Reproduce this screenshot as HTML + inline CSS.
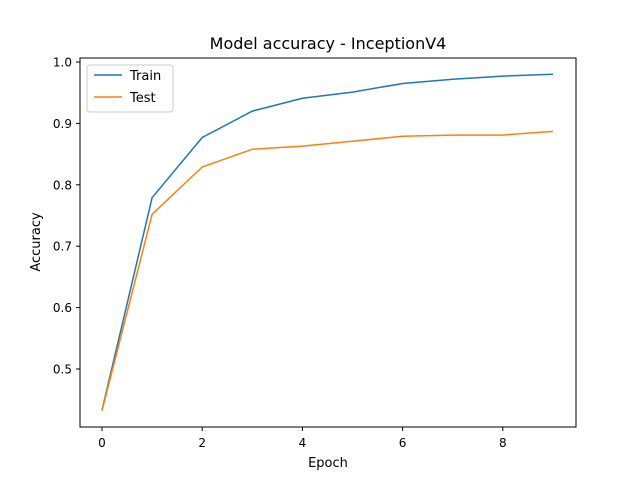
<!DOCTYPE html>
<html><head><meta charset="utf-8"><style>
body{margin:0;background:#fff;font-family:"DejaVu Sans","Liberation Sans",sans-serif;}
</style></head><body>
<svg id="chart" width="640" height="480" xmlns="http://www.w3.org/2000/svg" font-family="DejaVu Sans, Liberation Sans, sans-serif">
<rect width="640" height="480" fill="#fff"/>
<text x="328" y="49" font-size="16" text-anchor="middle">Model accuracy - InceptionV4</text>
<g id="plot"></g>
<rect x="80" y="58" width="496" height="369" fill="none" stroke="#000" stroke-width="1"/>
<text x="328" y="467" font-size="13" text-anchor="middle">Epoch</text>
<text transform="translate(40,242) rotate(-90)" font-size="13" text-anchor="middle">Accuracy</text>
<g>
<rect x="87" y="65" width="86" height="47" rx="3" fill="#fff" fill-opacity="0.8" stroke="#ccc"/>
<line x1="94" y1="75" x2="122" y2="75" stroke="#1f77b4" stroke-width="1.5"/>
<text x="130" y="80" font-size="13">Train</text>
<line x1="94" y1="97" x2="122" y2="97" stroke="#ff7f0e" stroke-width="1.5"/>
<text x="130" y="102" font-size="13">Test</text>
</g>
</svg>
<script>
const epochs=[0,1,2,3,4,5,6,7,8,9];
const trainAcc=[0.433,0.779,0.877,0.920,0.941,0.951,0.965,0.972,0.977,0.980];
const testAcc=[0.432,0.752,0.829,0.858,0.863,0.871,0.879,0.881,0.881,0.887];
const xTicks=[0,2,4,6,8];
const yTicks=[0.5,0.6,0.7,0.8,0.9,1.0];
const NS='http://www.w3.org/2000/svg';
const X=v=>102+v*50.1;
const Y=v=>62+(1-v)*614;
const g=document.getElementById('plot');
function el(t,a){const e=document.createElementNS(NS,t);for(const k in a)e.setAttribute(k,a[k]);g.appendChild(e);return e;}
xTicks.forEach(t=>{
 const l=el('line',{x1:X(t),x2:X(t),y1:427,y2:431,stroke:'#000'});
 
 
 const tx=el('text',{x:X(t),y:447,'font-size':12,'text-anchor':'middle'});tx.textContent=t;
 
 
});
yTicks.forEach(t=>{
 const l=el('line',{x1:76,x2:80,y1:Y(t),y2:Y(t),stroke:'#000'});
 
 
 const tx=el('text',{x:72,y:Y(t)+4.5,'font-size':12,'text-anchor':'end'});tx.textContent=t.toFixed(1);
 
 
});
function line(vals,color,name){
 const p=el('polyline',{points:vals.map((v,i)=>X(epochs[i])+','+Y(v)).join(' '),fill:'none',stroke:color,'stroke-width':1.5});
 
 
}
line(trainAcc,'#1f77b4','train-line');
line(testAcc,'#ff7f0e','test-line');
</script>
</body></html>
